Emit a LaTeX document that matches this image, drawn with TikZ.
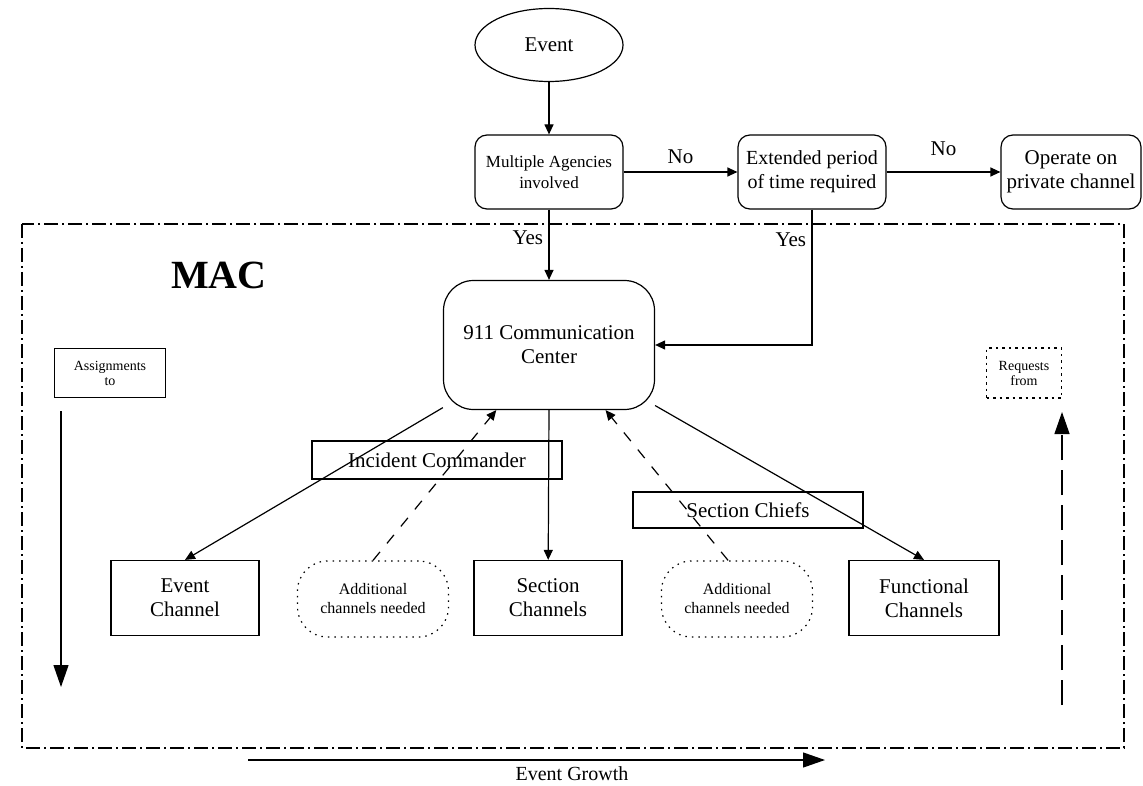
\documentclass[tikz,border=0pt]{standalone}
\usepackage{fontspec}
\setmainfont{Liberation Serif}
\usetikzlibrary{shapes,arrows.meta,positioning,calc}
\tikzset{
box/.style   = {draw, rectangle, rounded corners=12pt, minimum width=148pt, minimum height=74pt, inner sep=0pt, align=center},
chan/.style  = {draw, rectangle, minimum width=148pt, minimum height=75pt, inner sep=0pt, align=center},
extra/.style = {draw, rectangle, rounded corners=30pt, dash pattern=on 1.5pt off 5pt, minimum width=151pt, minimum height=76pt, inner sep=0pt, align=center, font=\fontsize{16}{19}\selectfont},
chief/.style = {draw, rectangle, inner sep=0pt, align=center},
note/.style  = {draw, rectangle, inner sep=0pt, align=center, font=\fontsize{14}{15}\selectfont},
big/.style   = {-{Triangle[length=22pt,width=15pt]}},
frame/.style = {dash pattern=on 14pt off 4pt on 2pt off 4pt}
}

\begin{document}
\begin{tikzpicture}[x=1pt, y=-1pt, line width=1.2pt, >={Triangle[length=10pt,width=9pt]},
  font=\fontsize{21}{24}\selectfont]
  \useasboundingbox (0,0) rectangle (1143,786);

  \draw [frame] (22,224) rectangle (1124,748);

  \node [draw, ellipse, minimum width=148pt, minimum height=73pt, inner sep=0pt] (event) at (549,45) {Event};
  \node [box, font=\fontsize{17}{21}\selectfont] (multi) at (549,172) {Multiple Agencies\\involved};
  \node [box, font=\fontsize{20}{24}\selectfont] (ext)   at (812,172) {Extended period\\of time required};
  \node [box, minimum width=140pt]               (oper)  at (1071,172) {Operate on\\private channel};
  \node [box, rounded corners=30pt, minimum width=211pt, minimum height=129pt] (ccc) at (549,345) {911 Communication\\Center};

  \node [font=\bfseries\fontsize{40}{44}\selectfont] (mac) at (219,275) {MAC};
  \node [note, minimum width=111pt, minimum height=49pt] (asg) at (110,373) {Assignments\\to};
  \node [note, dash pattern=on 2.5pt off 4pt, minimum width=75pt, minimum height=50pt] (req) at (1024,373) {Requests\\from};

  \node [chief, minimum width=250pt, minimum height=38pt] (inc) at (437,460) {Incident Commander};
  \node [chief, minimum width=230pt, minimum height=36pt] (sc)  at (748,510) {Section Chiefs};

  \node [chan]  (evch)  at (185,598) {Event\\Channel};
  \node [extra] (add1)  at (373,599) {Additional\\channels needed};
  \node [chan]  (sech)  at (548,598) {Section\\Channels};
  \node [extra] (add2)  at (737,599) {Additional\\channels needed};
  \node [chan, minimum width=150pt] (funch) at (924,598) {Functional\\Channels};

  \coordinate (asgtop) at (61,411);
  \coordinate (asgbot) at (61,687);
  \coordinate (reqbot) at (1062,705);
  \coordinate (reqtop) at (1062,412);
  \coordinate (grow0)  at (248,760);
  \coordinate (grow1)  at (825,760);
  \node [inner sep=0pt, font=\fontsize{20}{22}\selectfont] (growth) at (572,774) {Event Growth};

  \draw [->] (event) -- (multi);
  \draw [->] (multi) -- node [above=4pt] {No} (ext);
  \draw [->] (ext) -- node [above=12pt] {No} (oper);
  \draw [->] (multi) -- node [pos=0.4, left=2pt] {Yes} (ccc);
  \draw [->] (ext.south) -- node [pos=0.22, left=2pt] {Yes} (ext.south |- ccc) -- (ccc);

  \draw [->] (ccc) -- (evch.north);
  \draw [->] (ccc.south) -- (sech);
  \draw [->] (ccc) -- (funch.north);
  \draw [->, dash pattern=on 11pt off 11pt] (add1.north) -- (ccc.231);
  \draw [->, dash pattern=on 11pt off 11pt] (add2.103) -- (ccc.311);

  \draw [big] (asgtop) -- (asgbot);
  \draw [big, dash pattern=on 25pt off 10pt] (reqbot) -- (reqtop);
  \draw [big] (grow0) -- (grow1);
\end{tikzpicture}
\end{document}
